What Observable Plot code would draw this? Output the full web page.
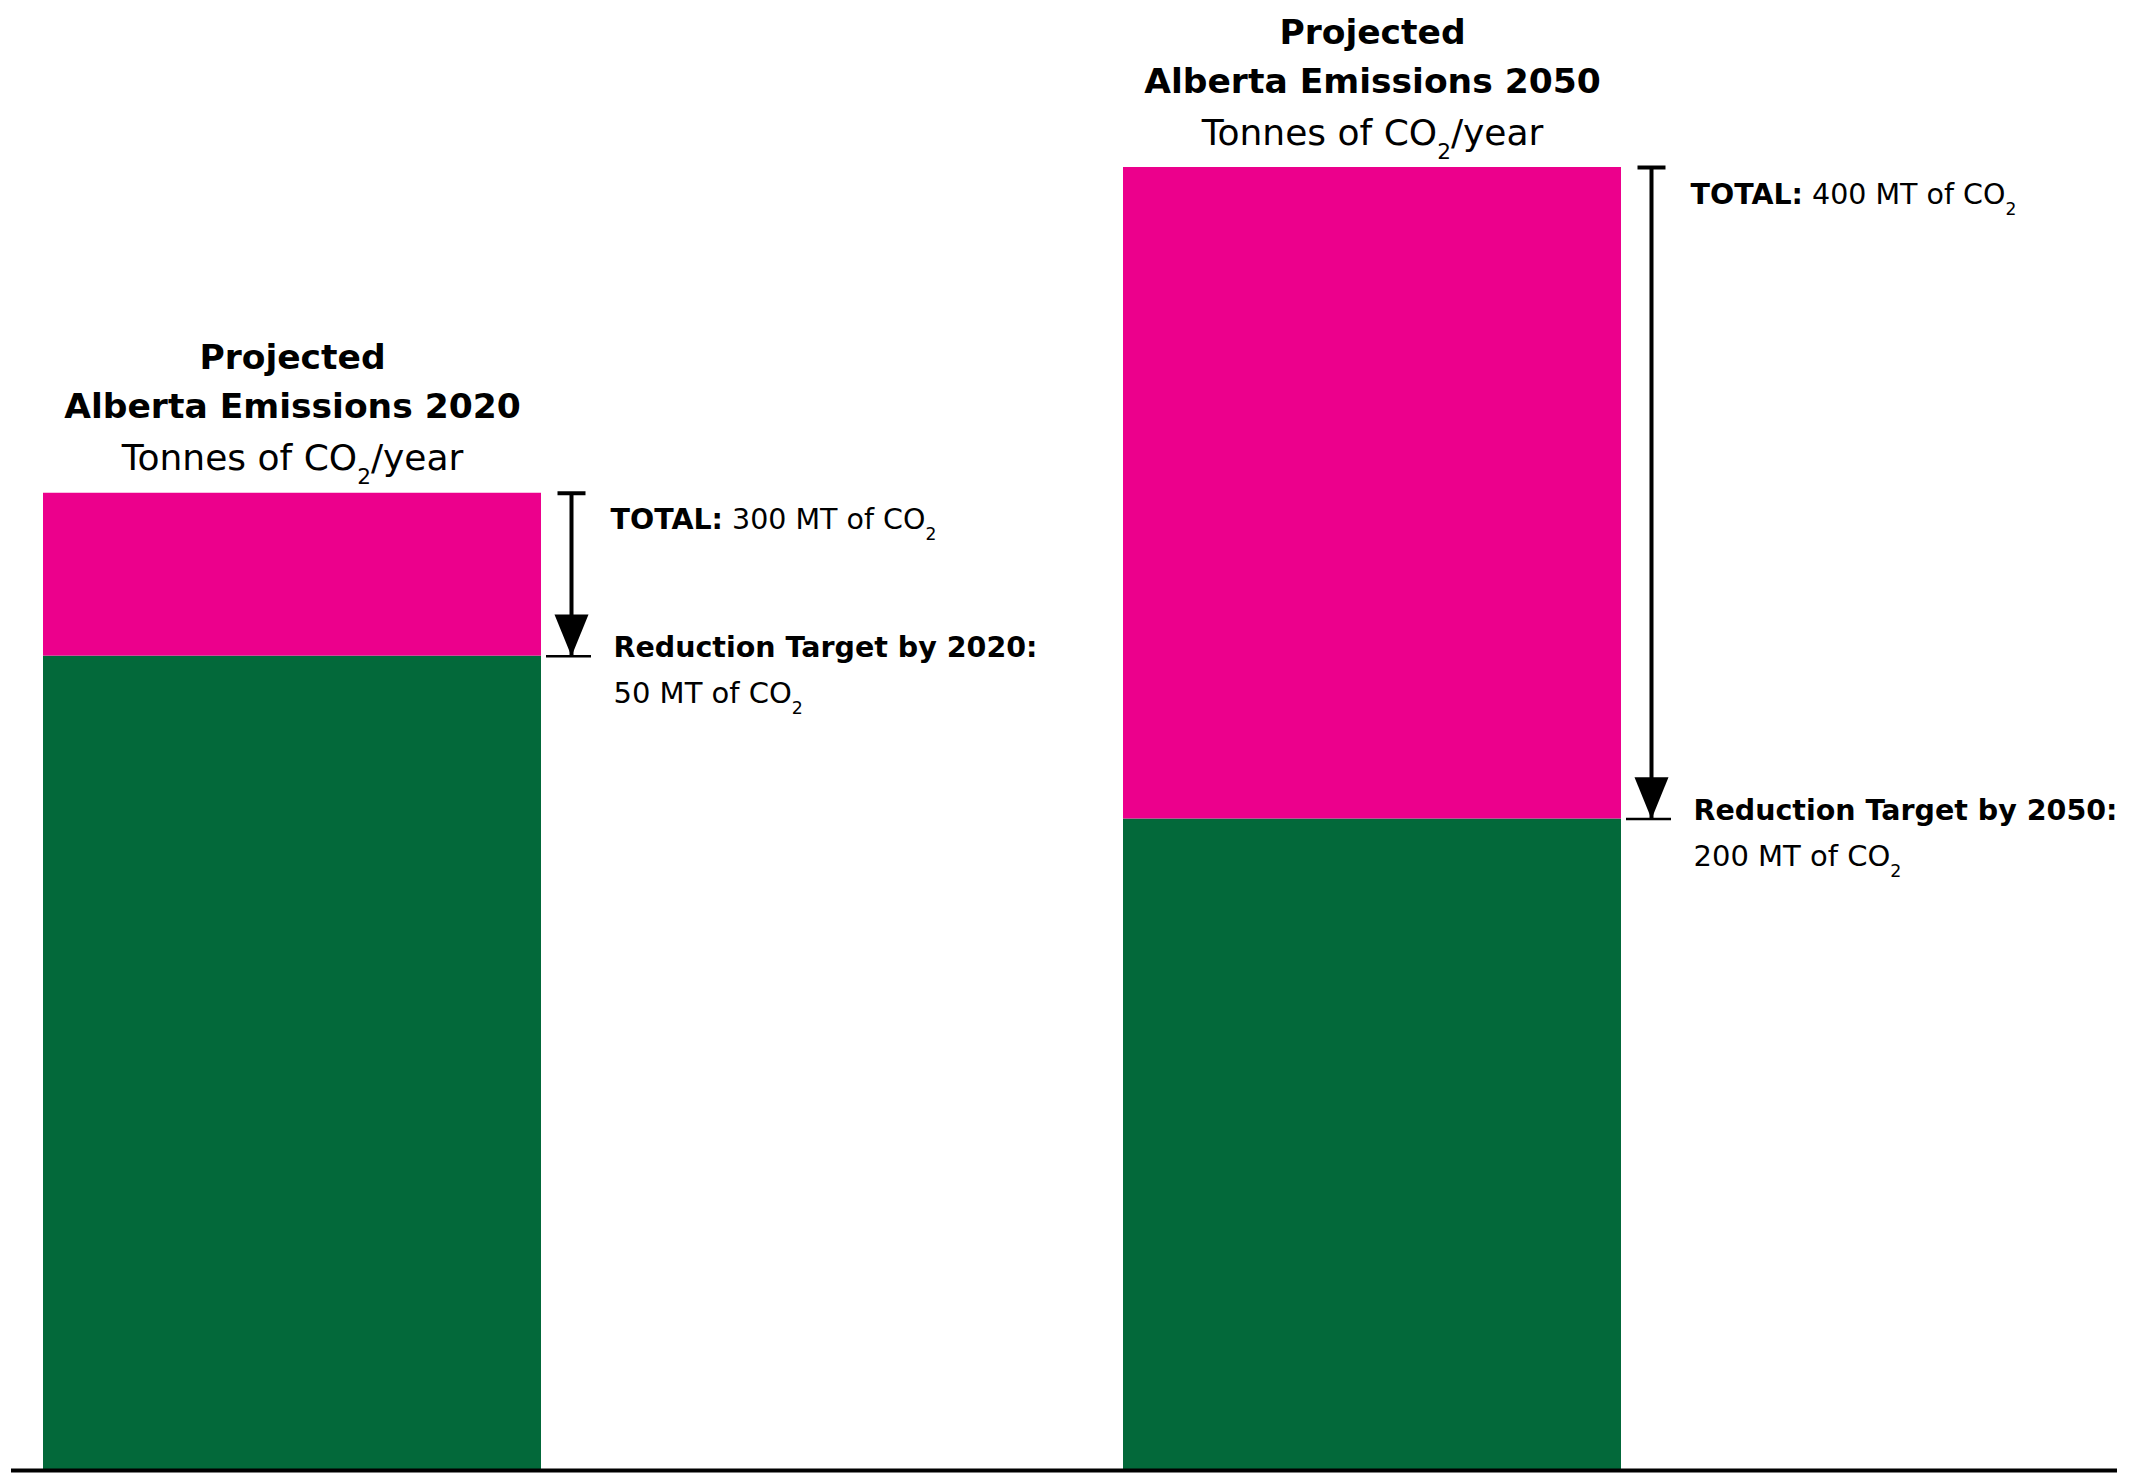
<!DOCTYPE html>
<html>
<head>
<meta charset="utf-8">
<script src="https://cdn.jsdelivr.net/npm/d3@7"></script>
<script src="https://cdn.jsdelivr.net/npm/@observablehq/plot@0.6"></script>
<style>
  html, body { margin: 0; padding: 0; background: #fff; }
  #chart svg { display: block; }
</style>
</head>
<body>
<div id="chart"></div>
<script>
// ---- data ----
const years = ["2020", "2050"];
const totals = [300, 400];          // MT of CO2 projected
const reductions = [50, 200];       // reduction target MT of CO2
const remaining = [250, 200];       // emissions after reduction
const titleLines = ["Projected\nAlberta Emissions 2020", "Projected\nAlberta Emissions 2050"];
const unitLabels = ["Tonnes of CO2/year", "Tonnes of CO2/year"];
const totalLabels = ["TOTAL: 300 MT of CO2", "TOTAL: 400 MT of CO2"];
const targetHeads = ["Reduction Target by 2020:", "Reduction Target by 2050:"];
const targetValues = ["50 MT of CO2", "200 MT of CO2"];

const rows = years.map((y, i) => ({
  year: y, total: totals[i], reduction: reductions[i], remaining: remaining[i],
  title: titleLines[i], unit: unitLabels[i], totalLabel: totalLabels[i],
  targetHead: targetHeads[i], targetValue: targetValues[i]
}));

const PINK = "#EC008C";
const GREEN = "#03693A";
const FONT = "'DejaVu Sans', sans-serif";

// custom symbols
const hline = { draw(ctx, size) { const r = Math.sqrt(size / Math.PI); ctx.moveTo(-r, 0); ctx.lineTo(r, 0); } };
const headDown = { draw(ctx, size) { const r = Math.sqrt(size / Math.PI); ctx.moveTo(-r, -r * 2.45); ctx.lineTo(r, -r * 2.45); ctx.lineTo(0, 0); ctx.closePath(); } };

const ARROW_DX = 279;

const chart = Plot.plot({
  width: 2131,
  height: 1476,
  marginLeft: 11,
  marginRight: 14,
  marginTop: 167,
  marginBottom: 6,
  x: { type: "band", domain: years, paddingInner: 0.5389, paddingOuter: 0.2444, align: 0.0606, axis: null },
  y: { domain: [0, 400], axis: null },
  style: { background: "#fff", overflow: "visible" },
  marks: [
    Plot.barY(rows, { x: "year", y1: 0, y2: "remaining", fill: GREEN }),
    Plot.barY(rows, { x: "year", y1: "remaining", y2: "total", fill: PINK }),
    Plot.ruleY([0], { stroke: "#000", strokeWidth: 4 }),
    // arrow shaft
    Plot.ruleX(rows, { x: "year", y1: "total", y2: "remaining", dx: ARROW_DX, stroke: "#000", strokeWidth: 4 }),
    // top cap
    Plot.dot(rows, { x: "year", y: "total", dx: ARROW_DX, symbol: hline, r: 14, fill: "none", stroke: "#000", strokeWidth: 4 }),
    // arrowhead
    Plot.dot(rows, { x: "year", y: "remaining", dx: ARROW_DX, symbol: headDown, r: 17, fill: "#000", stroke: "none" }),
    // target tick
    Plot.dot(rows, { x: "year", y: "remaining", dx: ARROW_DX - 3, symbol: hline, r: 22.5, fill: "none", stroke: "#000", strokeWidth: 2.5 }),
    // titles
    Plot.text(rows, { x: "year", y: "total", text: "title", lineAnchor: "bottom", dy: -75, lineHeight: 1.42,
      fontSize: 34.5, fontWeight: "bold", fontFamily: FONT, fill: "#000", textAnchor: "middle" }),
    Plot.text(rows, { x: "year", y: "total", text: "unit", lineAnchor: "bottom", dy: -23,
      fontSize: 36, fontFamily: FONT, fill: "#000", textAnchor: "middle" }),
    // annotations
    Plot.text(rows, { x: "year", y: "total", text: "totalLabel", lineAnchor: "bottom", dy: 36, dx: 318,
      fontSize: 28.5, fontFamily: FONT, fill: "#000", textAnchor: "start" }),
    Plot.text(rows, { x: "year", y: "remaining", text: "targetHead", lineAnchor: "bottom", dy: 1, dx: 321,
      fontSize: 28.5, fontWeight: "bold", fontFamily: FONT, fill: "#000", textAnchor: "start" }),
    Plot.text(rows, { x: "year", y: "remaining", text: "targetValue", lineAnchor: "bottom", dy: 47, dx: 321,
      fontSize: 29, fontFamily: FONT, fill: "#000", textAnchor: "start" })
  ]
});

document.getElementById("chart").appendChild(chart);

// ---- rich-text styling: bold "TOTAL:" and subscript 2 in CO2 ----
const NS = "http://www.w3.org/2000/svg";
function textLeaves(root) {
  const out = [];
  const walker = document.createTreeWalker(root, NodeFilter.SHOW_TEXT);
  let n; while ((n = walker.nextNode())) out.push(n);
  return out;
}
textLeaves(chart).forEach(node => {
  const s = node.nodeValue;
  if (s.startsWith("TOTAL:")) {
    const b = document.createElementNS(NS, "tspan");
    b.setAttribute("font-weight", "bold");
    b.textContent = "TOTAL:";
    const rest = document.createTextNode(s.slice(6));
    node.parentNode.insertBefore(b, node);
    node.parentNode.replaceChild(rest, node);
  }
});
textLeaves(chart).forEach(node => {
  const s = node.nodeValue;
  const k = s.indexOf("CO2");
  if (k < 0) return;
  const parent = node.parentNode;
  const before = document.createTextNode(s.slice(0, k + 2));
  const sub = document.createElementNS(NS, "tspan");
  sub.setAttribute("font-size", "0.6em");
  sub.setAttribute("dy", "0.65em");
  sub.textContent = "2";
  parent.insertBefore(before, node);
  parent.insertBefore(sub, node);
  const restStr = s.slice(k + 3);
  if (restStr) {
    const rest = document.createElementNS(NS, "tspan");
    rest.setAttribute("dy", "-0.39em");
    rest.textContent = restStr;
    parent.insertBefore(rest, node);
  }
  parent.removeChild(node);
});
</script>
</body>
</html>
